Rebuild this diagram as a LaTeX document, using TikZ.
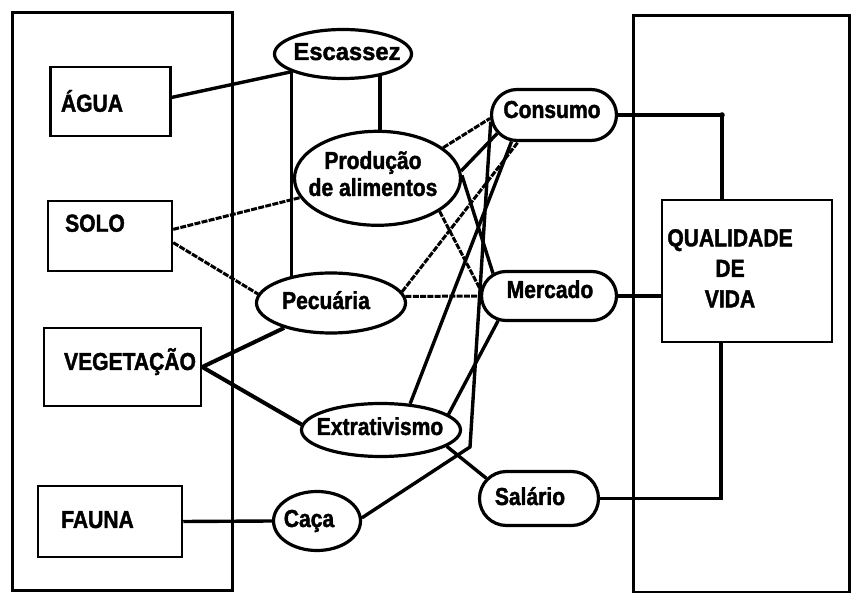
\documentclass[tikz,border=0pt]{standalone}
\usepackage{fontspec}
\setmainfont{Liberation Sans}[FakeStretch=0.86, BoldFeatures={FakeBold=1.6}]
\newfontfamily\widefont{Liberation Sans}[FakeStretch=0.97, BoldFeatures={FakeBold=1.6}]
\usetikzlibrary{shapes.geometric,shapes.misc}
\pgfdeclarelayer{bg}
\pgfsetlayers{bg,main}
\begin{document}
\begin{tikzpicture}[x=1pt,y=-1pt,
  frame/.style={draw, line width=3pt, inner sep=0pt, outer sep=0pt},
  box/.style={draw, fill=white, line width=2.5pt, inner sep=0pt},
  ell/.style={ellipse, draw, fill=white, line width=3.2pt, inner sep=0pt},
  pill/.style={rounded rectangle, draw, fill=white, line width=3.2pt, inner sep=0pt},
  lbl/.style={font=\bfseries\fontsize{24.5}{28}\selectfont, inner sep=0pt},
  link/.style={line width=3.4pt},
  thicklink/.style={line width=4pt},
  dlink/.style={line width=3pt, dash pattern=on 6pt off 1.3pt},
]
\useasboundingbox (0,0) rectangle (852,593);

% frames
\node[frame, minimum width=219.5pt, minimum height=578pt] (lf) at (122.5,301.5) {};
\node[frame, minimum width=216pt, minimum height=576pt] (rf) at (741,304) {};

% left boxes
\node[box, minimum width=120pt, minimum height=69pt] (agua) at (110.5,101.7) {};
\node[box, minimum width=124pt, minimum height=70pt] (solo) at (110,236) {};
\node[box, minimum width=157pt, minimum height=78pt] (veg) at (122.5,367) {};
\node[box, minimum width=144pt, minimum height=71pt] (fauna) at (110,521.5) {};

% ellipses
\node[ell, minimum width=137pt, minimum height=49pt] (esc) at (343,54) {};
\node[ell, minimum width=166pt, minimum height=94pt] (prod) at (377.5,178.3) {};
\node[ell, minimum width=149pt, minimum height=60pt] (pec) at (331,303) {};
\node[ell, minimum width=159pt, minimum height=53pt] (ext) at (381,430) {};
\node[ell, minimum width=87pt, minimum height=59pt] (caca) at (317,521) {};

% pills
\node[pill, minimum width=125pt, minimum height=51pt] (cons) at (554,115) {};
\node[pill, minimum width=135pt, minimum height=49pt] (merc) at (549,296) {};
\node[pill, minimum width=119pt, minimum height=54pt] (sal) at (539,498.5) {};

% quality of life box
\node[box, minimum width=170pt, minimum height=142pt] (qv) at (747,271) {};

\coordinate (bend) at (470,447);

\begin{pgfonlayer}{bg}
  \draw[link] (agua.4) -- (esc.199);
  \draw[link] (esc.199) -- (esc.199 |- pec.center);
  \draw[link] (esc.329) -- (esc.329 |- prod.center);
  \draw[dlink] (solo.6) -- (prod.194);
  \draw[dlink] (solo.-6) -- (pec.173);
  \draw[thicklink] (veg.east) -- (pec.208);
  \draw[thicklink] (veg.east) -- (ext.176);
  \draw[link] (fauna.east) -- (caca.west);
  \draw[link] (caca.4) -- (bend) -- (cons.186);
  \draw[link] (ext.42) -- (cons.212);
  \draw[dlink] (pec.9) -- (cons.217);
  \draw[dlink] (prod.25) -- (cons.183);
  \draw[link] (prod.5) -- (cons.198);
  \draw[dlink] (pec.5) -- (merc.west);
  \draw[dlink] (prod.332) -- (merc.175);
  \draw[link] (prod.2) -- (merc.158);
  \draw[link] (ext.13) -- (merc.206);
  \draw[link] (ext.346) -- (sal.159);
  \draw[link] (cons.east) -| ([xshift=-25pt]qv.north);
  \draw[link] (merc.east) -- (merc.east -| qv.west);
  \draw[link] (sal.east) -| ([xshift=-26pt]qv.south);
\end{pgfonlayer}
\fill ([xshift=-25pt]qv.north |- cons.east) circle (2.8pt);

% labels
\node[lbl, anchor=base] (tagua) at (92,111.7) {ÁGUA};
\node[lbl, anchor=base] (tsolo) at (95,231.7) {SOLO};
\node[lbl, anchor=base] (tveg) at (130,370) {VEGETAÇÃO};
\node[lbl, anchor=base] (tfauna) at (97.5,528) {FAUNA};
\node[lbl, anchor=base, font=\widefont\bfseries\fontsize{24.5}{28}\selectfont] (tesc) at (347,60) {Escassez};
\node[lbl, anchor=north, align=center, font=\bfseries\fontsize{24.5}{27}\selectfont] (tprod) at (373,151) {Produção\\de alimentos};
\node[lbl, anchor=base] (tpec) at (326,309) {Pecuária};
\node[lbl, anchor=base] (lext) at (380,435) {Extrativismo};
\node[lbl, anchor=base] (tcaca) at (309,527) {Caça};
\node[lbl, anchor=base] (tcons) at (552,118) {Consumo};
\node[lbl, anchor=base] (tmerc) at (550,298) {Mercado};
\node[lbl, anchor=base] (tsal) at (530,505) {Salário};
\node[lbl, anchor=north, align=center, font=\bfseries\fontsize{24.5}{30.5}\selectfont] (tqv) at (730,229) {QUALIDADE\\DE\\VIDA};
\end{tikzpicture}
\end{document}
